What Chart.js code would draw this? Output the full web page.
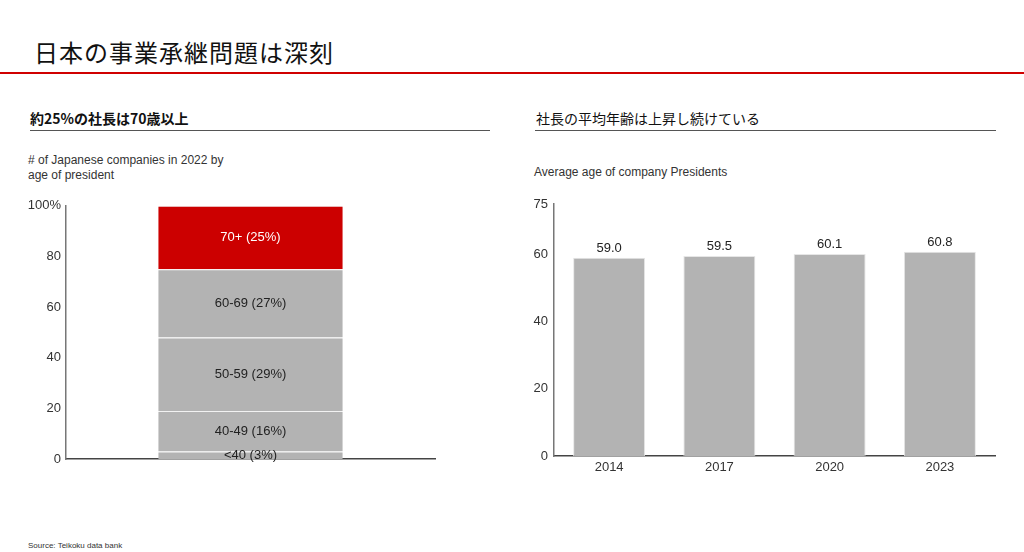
<!DOCTYPE html>
<html lang="ja">
<head>
<meta charset="UTF-8">
<title>日本の事業承継問題は深刻</title>
<script src="https://cdn.jsdelivr.net/npm/chart.js@4"></script>
<style>
  body { margin: 0; width: 1024px; height: 552px; background: #fff; position: relative; font-family: "Liberation Sans", Arial, sans-serif; overflow: hidden; }
  .abs { position: absolute; }
  #title { left: 34px; top: 34px; font: 24px "Noto Sans CJK JP", sans-serif; color: #111; letter-spacing: 1px; }
  #redline { left: 0; top: 72px; width: 1024px; height: 2px; background: #d00000; }
  .sub { font: 14px "Noto Sans CJK JP", sans-serif; color: #111; }
  .rule { height: 1px; background: #555; }
  .note { font-size: 12px; color: #333; line-height: 15px; }
</style>
</head>
<body>
<div id="title" class="abs">日本の事業承継問題は深刻</div>
<div id="redline" class="abs"></div>

<div class="abs sub" style="left:30px; top:108px; font-weight:bold;">約25%の社長は70歳以上</div>
<div class="abs rule" style="left:30px; top:130px; width:460px;"></div>
<div class="abs note" style="left:28px; top:153px;"># of Japanese companies in 2022 by<br>age of president</div>

<div class="abs sub" style="left:536px; top:108px;">社長の平均年齢は上昇し続けている</div>
<div class="abs rule" style="left:535px; top:130px; width:461px;"></div>
<div class="abs note" style="left:534px; top:165px;">Average age of company Presidents</div>

<div class="abs" style="left:20px; top:193px; width:420px; height:279px;"><canvas id="left"></canvas></div>
<div class="abs" style="left:520px; top:190px; width:490px; height:290px;"><canvas id="right"></canvas></div>

<div class="abs" style="left:28px; top:541px; font-size:8px; color:#333;">Source: Teikoku data bank</div>

<script>
// left chart: share by age of president (2022)
const ageGroups = ['<40', '40-49', '50-59', '60-69', '70+'];
const agePercent = [3, 16, 29, 27, 25];
const ageColors = ['#b3b3b3', '#b3b3b3', '#b3b3b3', '#b3b3b3', '#cc0000'];

// right chart: average age
const years = ['2014', '2017', '2020', '2023'];
const avgAge = [59.0, 59.5, 60.1, 60.8];
const rightTicks = [0, 20, 40, 60, 75];

const tickFont = { family: '"Liberation Sans", Arial, sans-serif', size: 13 };
Chart.defaults.animation = false;
Chart.defaults.color = '#333';

// draws labels on the bars (no datalabels plugin available)
const barLabels = {
  id: 'barLabels',
  afterDatasetsDraw(chart, args, opts) {
    const ctx = chart.ctx;
    ctx.save();
    ctx.font = '13px "Liberation Sans", Arial, sans-serif';
    ctx.textAlign = 'center';
    chart.data.datasets.forEach((ds, i) => {
      const meta = chart.getDatasetMeta(i);
      meta.data.forEach((bar, j) => {
        if (opts.inside) {
          ctx.textBaseline = 'middle';
          ctx.fillStyle = ds.labelColor;
          ctx.fillText(ds.label + ' (' + ds.data[j] + '%)', bar.x, (bar.y + bar.base) / 2);
        } else {
          ctx.textBaseline = 'bottom';
          ctx.fillStyle = '#222';
          ctx.fillText(ds.data[j].toFixed(1), bar.x, bar.y - 3);
        }
      });
    });
    ctx.restore();
  }
};

new Chart(document.getElementById('left'), {
  type: 'bar',
  data: {
    labels: ['2022'],
    datasets: ageGroups.map((g, i) => ({
      label: g,
      data: [agePercent[i]],
      backgroundColor: ageColors[i],
      borderColor: '#f2f2f2',
      borderWidth: { top: 1, bottom: 0, left: 0, right: 0 },
      borderSkipped: false,
      labelColor: i === 4 ? '#fff' : '#222',
      barPercentage: 0.5,
      categoryPercentage: 1
    }))
  },
  options: {
    responsive: true,
    maintainAspectRatio: false,
    layout: { padding: { top: 8, right: 5, bottom: 8, left: 0 } },
    plugins: { legend: { display: false }, tooltip: { enabled: false }, barLabels: { inside: true } },
    scales: {
      x: {
        stacked: true,
        ticks: { display: false },
        grid: { display: false, drawTicks: false },
        border: { color: '#444', width: 1.5 },
        afterFit(s) { s.height = 0; }
      },
      y: {
        stacked: true,
        min: 0, max: 100,
        ticks: { stepSize: 20, font: tickFont, color: '#333', padding: 5, callback: v => v === 100 ? '100%' : v },
        grid: { display: false, drawTicks: false },
        border: { color: '#777', width: 1.5 },
        afterFit(s) { s.width = 46; }
      }
    }
  },
  plugins: [barLabels]
});

new Chart(document.getElementById('right'), {
  type: 'bar',
  data: {
    labels: years,
    datasets: [{
      label: 'Average age',
      data: avgAge,
      backgroundColor: '#b3b3b3',
      borderColor: '#e6e6e6',
      borderWidth: 1,
      borderSkipped: 'bottom',
      barPercentage: 0.653,
      categoryPercentage: 1
    }]
  },
  options: {
    responsive: true,
    maintainAspectRatio: false,
    layout: { padding: { top: 14, right: 15, bottom: 0, left: 0 } },
    plugins: { legend: { display: false }, tooltip: { enabled: false }, barLabels: { inside: false } },
    scales: {
      x: {
        ticks: { font: tickFont, color: '#333', padding: 4 },
        grid: { display: false, drawTicks: false },
        border: { color: '#444', width: 1.5 },
        afterFit(s) { s.height = 24; }
      },
      y: {
        min: 0, max: 75,
        afterBuildTicks(s) { s.ticks = rightTicks.map(v => ({ value: v })); },
        ticks: { font: tickFont, color: '#333', padding: 6 },
        grid: { display: false, drawTicks: false },
        border: { color: '#777', width: 1.5 },
        afterFit(s) { s.width = 34; }
      }
    }
  },
  plugins: [barLabels]
});
</script>
</body>
</html>
